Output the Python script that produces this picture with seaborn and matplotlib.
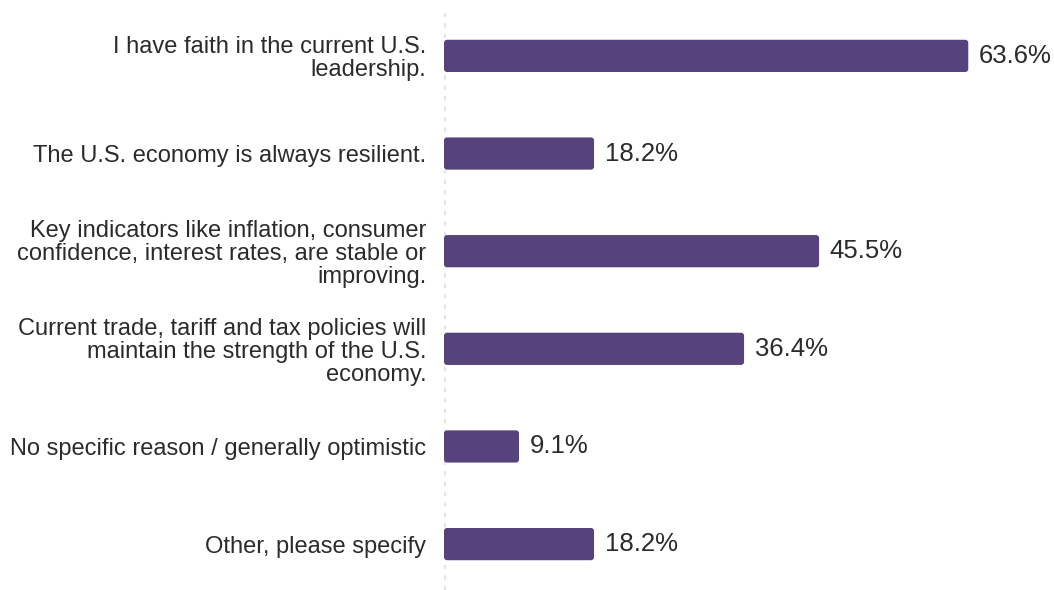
import matplotlib
matplotlib.use("Agg")
import matplotlib.pyplot as plt
import seaborn as sns
import pandas as pd
from matplotlib.patches import FancyBboxPatch

# Chart data
categories = [
    "I have faith in the current U.S.\nleadership.",
    "The U.S. economy is always resilient.",
    "Key indicators like inflation, consumer\nconfidence, interest rates, are stable or\nimproving.",
    "Current trade, tariff and tax policies will\nmaintain the strength of the U.S.\neconomy.",
    "No specific reason / generally optimistic",
    "Other, please specify",
]
values = [63.6, 18.2, 45.5, 36.4, 9.1, 18.2]
value_labels = ["63.6%", "18.2%", "45.5%", "36.4%", "9.1%", "18.2%"]

bar_color = "#56437b"
text_color = "#2b2b2b"

sns.set_theme(style="white")
plt.rcParams['font.family'] = ['Liberation Sans', 'DejaVu Sans']

df = pd.DataFrame({"reason": categories, "pct": values})

fig = plt.figure(figsize=(10.54, 5.9), dpi=100)
ax = fig.add_axes([444 / 1054, 0.0, 1 - 444 / 1054, 580 / 590])

sns.barplot(data=df, x="pct", y="reason", color=bar_color, width=0.33,
            saturation=1, ax=ax)

ax.set_xlim(0, 74)
ax.set_ylim(5.47, -0.47)

# swap plain rectangles for slightly rounded ones
px_x = ax.bbox.width / 74
px_y = ax.bbox.height / 5.94
for p in list(ax.patches):
    x, y, w, h = p.get_x(), p.get_y(), p.get_width(), p.get_height()
    p.remove()
    ax.add_patch(FancyBboxPatch((x, y), w, h,
                                boxstyle="round,pad=0,rounding_size=%f" % (3 / px_x),
                                mutation_aspect=px_x / px_y,
                                facecolor=bar_color, edgecolor="none"))

for i, (v, lab) in enumerate(zip(values, value_labels)):
    ax.text(v + 1.3, i, lab, va="center", ha="left", fontsize=18.5, color=text_color)

# dotted baseline
ax.axvline(0, color="#e4e4e4", lw=3.0, linestyle=(0, (1, 1.5)), zorder=0)

ax.set_xlabel("")
ax.set_ylabel("")
ax.set_xticks([])
ax.tick_params(axis="y", length=0, pad=12.8, labelsize=17, labelcolor=text_color)
for lbl in ax.get_yticklabels():
    lbl.set_horizontalalignment("right")
    lbl.set_multialignment("right")
    lbl.set_linespacing(1.06)
sns.despine(ax=ax, left=True, bottom=True)

fig.savefig("out.png", dpi=100)
